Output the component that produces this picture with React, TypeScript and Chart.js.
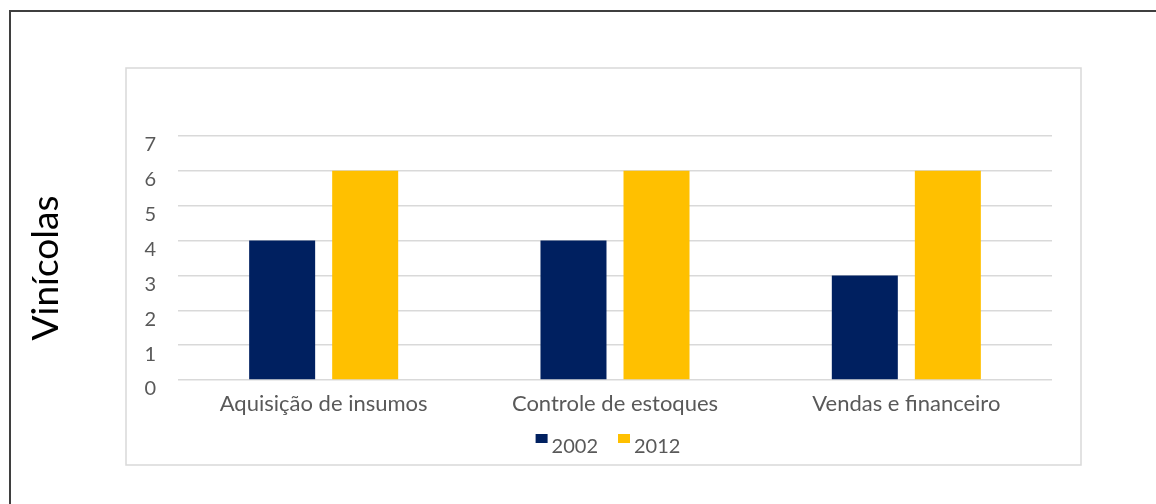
import React, { useEffect, useRef } from "react";
import { Chart, registerables } from "chart.js";

Chart.register(...registerables);

const categories = ["Aquisição de insumos", "Controle de estoques", "Vendas e financeiro"];
const seriesLabels = ["2002", "2012"];
const values2002 = [4, 4, 3];
const values2012 = [6, 6, 6];
const seriesColors = ["#002060", "#FFC000"];
const yMin = 0;
const yMax = 7;
const yStep = 1;
const yTitle = "Vinícolas";

const FONT = "Lato, 'Open Sans', sans-serif";
const TEXT_GRAY = "#595959";

const decorPlugin = {
  id: "decor",
  beforeDraw(chart: any) {
    const ctx = chart.ctx;
    ctx.save();
    // outer frame
    ctx.strokeStyle = "#3f3f3f";
    ctx.lineWidth = 2;
    ctx.beginPath();
    ctx.moveTo(10, 504);
    ctx.lineTo(10, 11);
    ctx.lineTo(1156, 11);
    ctx.stroke();
    // inner chart box
    ctx.strokeStyle = "#d9d9d9";
    ctx.lineWidth = 1.5;
    ctx.strokeRect(126, 68, 955, 397);
    ctx.restore();
  },
  afterDraw(chart: any) {
    const ctx = chart.ctx;
    ctx.save();
    // y-axis title
    ctx.translate(46, 268);
    ctx.rotate(-Math.PI / 2);
    ctx.fillStyle = "#000000";
    ctx.font = `37px ${FONT}`;
    ctx.textAlign = "center";
    ctx.textBaseline = "middle";
    ctx.fillText(yTitle, 0, 0);
    ctx.restore();

    // legend
    ctx.save();
    ctx.font = `20px ${FONT}`;
    ctx.textBaseline = "middle";
    ctx.textAlign = "left";
    const ds = chart.data.datasets;
    const boxW = 12;
    const boxH = 9;
    const gapBoxText = 4;
    const gapItems = 20;
    const widths = ds.map((d: any) => boxW + gapBoxText + ctx.measureText(d.label).width);
    const total = widths.reduce((a: number, b: number) => a + b, 0) + gapItems * (ds.length - 1);
    let x = 608 - total / 2;
    const cy = 447;
    ds.forEach((d: any, i: number) => {
      ctx.fillStyle = d.backgroundColor;
      ctx.fillRect(x, 434, boxW, boxH);
      ctx.fillStyle = TEXT_GRAY;
      ctx.fillText(d.label, x + boxW + gapBoxText, cy);
      x += widths[i] + gapItems;
    });
    ctx.restore();
  },
};

export default function App() {
  const ref = useRef<HTMLCanvasElement | null>(null);

  useEffect(() => {
    document.body.style.margin = "0";
    const canvas = ref.current;
    if (!canvas) return;
    const chart = new Chart(canvas, {
      type: "bar",
      data: {
        labels: categories,
        datasets: [
          {
            label: seriesLabels[0],
            data: values2002,
            backgroundColor: seriesColors[0],
            categoryPercentage: 0.57,
            barPercentage: 0.795,
          },
          {
            label: seriesLabels[1],
            data: values2012,
            backgroundColor: seriesColors[1],
            categoryPercentage: 0.57,
            barPercentage: 0.795,
          },
        ],
      },
      options: {
        responsive: false,
        animation: false,
        layout: { padding: { top: 136, right: 104, left: 0, bottom: 0 } },
        plugins: {
          legend: { display: false },
          title: { display: false },
          tooltip: { enabled: false },
        },
        scales: {
          x: {
            grid: { display: false, drawTicks: false },
            border: { display: false },
            ticks: {
              color: TEXT_GRAY,
              font: { family: FONT, size: 22 },
              padding: 11,
              maxRotation: 0,
              autoSkip: false,
            },
            afterFit(scale: any) {
              scale.height = 124;
            },
          },
          y: {
            min: yMin,
            max: yMax,
            grid: { color: "#d9d9d9", lineWidth: 1.5, drawTicks: false },
            border: { display: false },
            ticks: {
              stepSize: yStep,
              color: TEXT_GRAY,
              font: { family: FONT, size: 20 },
              padding: 22,
              labelOffset: 9,
            },
            afterFit(scale: any) {
              scale.width = 178;
            },
          },
        },
      },
      plugins: [decorPlugin],
    });
    return () => chart.destroy();
  }, []);

  return (
    <div style={{ position: "absolute", left: 0, top: 0, width: 1156, height: 504, background: "#fff" }}>
      <canvas ref={ref} width={1156} height={504} style={{ display: "block" }} />
    </div>
  );
}
